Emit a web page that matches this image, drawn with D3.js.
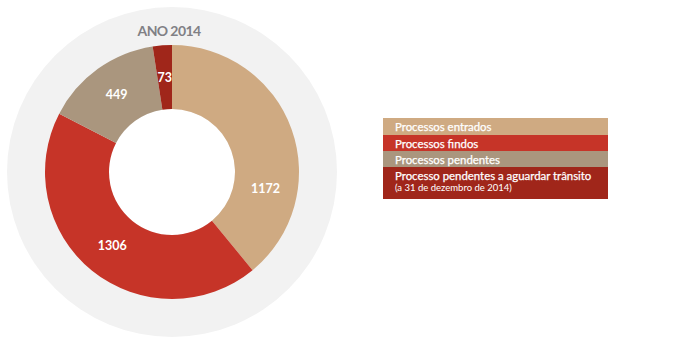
<!DOCTYPE html>
<html><head><meta charset="utf-8">
<script src="https://cdn.jsdelivr.net/npm/d3@7"></script>
<style>body{margin:0;background:#fff}svg{display:block}</style>
</head><body>
<svg id="c" width="690" height="352"></svg>
<script>
const categories = ["Processos entrados","Processos findos","Processos pendentes","Processo pendentes a aguardar trânsito"];
const subLabels = ["","","","(a 31 de dezembro de 2014)"];
const values = [1172, 1306, 449, 73];
const colors = ["#CFAA82","#C63428","#AA967E","#A0261A"];
const title = "ANO 2014";

const svg = d3.select("#c");
const cx = 172, cy = 172;
svg.append("circle").attr("cx",cx).attr("cy",cy).attr("r",165).attr("fill","#F2F2F2");
svg.append("circle").attr("cx",cx).attr("cy",cy).attr("r",63).attr("fill","#fff");

const pie = d3.pie().sort(null).value(d=>d)(values);
const arc = d3.arc().innerRadius(63).outerRadius(127);
const g = svg.append("g").attr("transform",`translate(${cx},${cy})`);
g.selectAll("path").data(pie).join("path").attr("d",arc).attr("fill",(d,i)=>colors[i]);

const labelArc = d3.arc().innerRadius(95).outerRadius(95);
g.selectAll("text.v").data(pie).join("text").attr("class","v")
  .attr("transform",(d,i)=>{
    let dd = d;
    if(i===0){ const a = d.startAngle + (d.endAngle-d.startAngle)*0.71; dd = {startAngle:a,endAngle:a}; }
    const c = labelArc.centroid(dd); return `translate(${c[0]},${c[1]})`;})
  .attr("text-anchor","middle").attr("dy","0.35em")
  .attr("fill","#fff").attr("font-family","Lato, 'Open Sans', sans-serif").attr("font-weight","bold").attr("font-size",12.5)
  .text(d=>d.data);

svg.append("text").attr("x",169).attr("y",36).attr("text-anchor","middle")
  .attr("fill","#808085").attr("font-family","Lato, 'Open Sans', sans-serif").attr("font-weight","bold")
  .attr("font-size",14).attr("letter-spacing",-0.6).text(title);

const lx = 383, lw = 225;
const rows = [{y:118,h:17},{y:135,h:16},{y:151,h:16},{y:167,h:32}];
const lg = svg.append("g");
categories.forEach((c,i)=>{
  lg.append("rect").attr("x",lx).attr("y",rows[i].y).attr("width",lw).attr("height",rows[i].h).attr("fill",colors[i]);
  lg.append("text").attr("x",395).attr("y",rows[i].y+12.5).attr("fill","#fff")
    .attr("font-family","Lato, 'Open Sans', sans-serif").attr("font-size",11.4).attr("stroke","#fff").attr("stroke-width",0.25).text(c);
  if(subLabels[i]) lg.append("text").attr("x",395).attr("y",rows[i].y+24).attr("fill","#fff")
    .attr("font-family","Lato, 'Open Sans', sans-serif").attr("font-size",9.5).text(subLabels[i]);
});
</script>
</body></html>
